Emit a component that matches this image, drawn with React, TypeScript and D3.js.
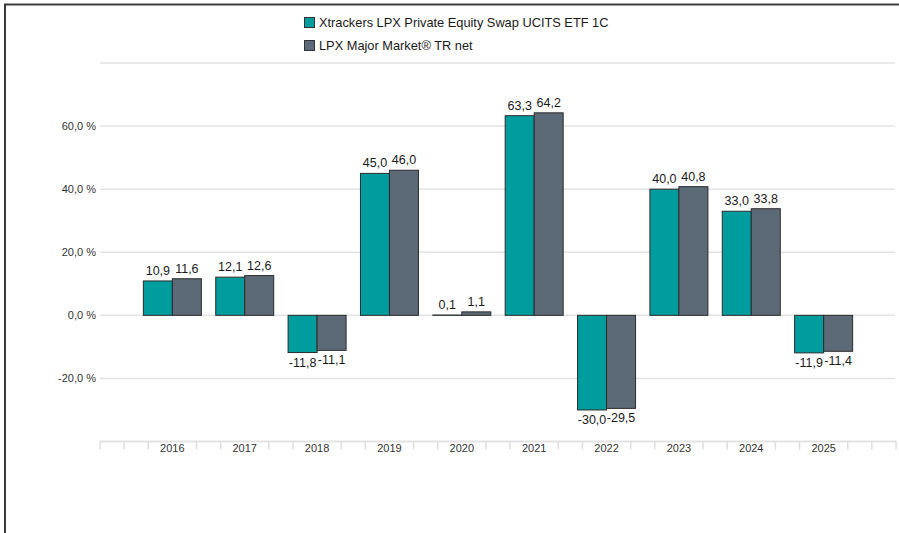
import * as d3 from "d3";

const years = ["2016", "2017", "2018", "2019", "2020", "2021", "2022", "2023", "2024", "2025"];
const etfReturns = [10.9, 12.1, -11.8, 45.0, 0.1, 63.3, -30.0, 40.0, 33.0, -11.9];
const indexReturns = [11.6, 12.6, -11.1, 46.0, 1.1, 64.2, -29.5, 40.8, 33.8, -11.4];
const seriesNames = ["Xtrackers LPX Private Equity Swap UCITS ETF 1C", "LPX Major Market® TR net"];
const yTicks = [80, 60, 40, 20, 0, -20];
const yLabelled = [60, 40, 20, 0, -20];

const W = 899;
const H = 533;
const COLORS = ["#009c9e", "#5b6a76"];
const FONT = "'Liberation Sans', Arial, sans-serif";

const fmt = (v: number) => v.toFixed(1).replace(".", ",");

export default function App() {
  // blank slots at each end so years sit on the inner points
  const x = d3
    .scalePoint<string>()
    .domain(["_a", ...years, "_b"])
    .range([100, 896]);
  const step = x.step();

  const y = d3.scaleLinear().domain([-40, 80]).range([441.5, 63]);

  const barW = 29;
  const minor = d3.range(0, 34).map((i) => 100 + (i * step) / 3).filter((_, i) => i % 3 !== 0 || i === 0 || i === 33);

  const series = [etfReturns, indexReturns];

  return (
    <div style={{ position: "fixed", left: 0, top: 0, width: W, height: H, background: "#fff" }}>
      <svg width={W} height={H} style={{ display: "block" }} fontFamily={FONT}>
        {/* frame */}
        <line x1={4} x2={W} y1={4.5} y2={4.5} stroke="#3a3a3a" strokeWidth={2} />
        <line x1={5} x2={5} y1={4} y2={H} stroke="#3a3a3a" strokeWidth={2} />

        {/* legend */}
        {seriesNames.map((name, i) => (
          <g key={name} transform={`translate(304,${17 + i * 23})`}>
            <rect x={0.5} y={0.5} width={10} height={10} fill={COLORS[i]} stroke="#333" strokeWidth={1} />
            <text x={15} y={9.5} fontSize={12.8} fill="#1a1a1a">
              {name}
            </text>
          </g>
        ))}

        {/* grid */}
        {yTicks.map((t) => (
          <line key={t} x1={100} x2={895} y1={y(t)} y2={y(t)} stroke="#e3e3e3" strokeWidth={1.5} />
        ))}
        {yLabelled.map((t) => (
          <text key={t} x={96} y={y(t)} dy="0.35em" textAnchor="end" fontSize={11} fill="#333">
            {fmt(t)} %
          </text>
        ))}

        {/* x axis */}
        <line x1={100} x2={896} y1={y(-40)} y2={y(-40)} stroke="#e3e3e3" strokeWidth={2} />
        {minor.map((m) => (
          <line key={m} x1={m} x2={m} y1={y(-40)} y2={y(-40) + 8} stroke="#dedede" strokeWidth={1.5} />
        ))}
        {years.map((yr) => (
          <text key={yr} x={x(yr)} y={452} textAnchor="middle" fontSize={11} fill="#333">
            {yr}
          </text>
        ))}

        {/* bars */}
        {years.map((yr, j) =>
          series.map((vals, i) => {
            const v = vals[j];
            const bx = (x(yr) ?? 0) - barW + i * barW;
            const top = Math.min(y(v), y(0));
            const h = Math.abs(y(v) - y(0));
            return (
              <g key={yr + i}>
                <rect x={bx} y={top} width={barW} height={h} fill={COLORS[i]} stroke="#2b2b2b" strokeWidth={1} />
                <text
                  x={bx + barW / 2}
                  y={v >= 0 ? top - 6 : top + h + 14}
                  textAnchor="middle"
                  fontSize={12.5}
                  fill="#1a1a1a"
                >
                  {fmt(v)}
                </text>
              </g>
            );
          })
        )}
      </svg>
    </div>
  );
}
